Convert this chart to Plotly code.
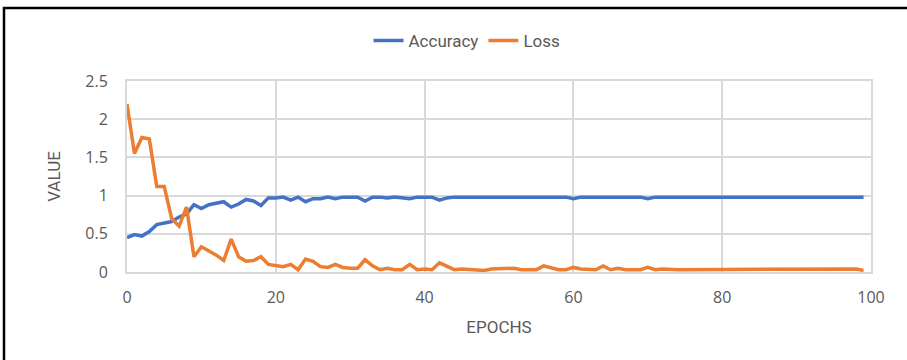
import plotly.graph_objects as go

epochs = list(range(100))
accuracy = [0.45, 0.49, 0.47, 0.53, 0.62, 0.64, 0.66, 0.72, 0.76, 0.88,
            0.83, 0.88, 0.90, 0.92, 0.85, 0.89, 0.95, 0.93, 0.87, 0.97,
            0.97, 0.98, 0.94, 0.98, 0.92, 0.96, 0.96, 0.98, 0.96, 0.98,
            0.98, 0.98, 0.93, 0.98, 0.98, 0.97, 0.98, 0.97, 0.96, 0.98,
            0.98, 0.98, 0.94, 0.97, 0.98, 0.98, 0.98, 0.98, 0.98, 0.98,
            0.98, 0.97, 0.98, 0.98, 0.98, 0.97, 0.98, 0.98, 0.98, 0.98,
            0.96, 0.98, 0.98, 0.98, 0.97, 0.98, 0.98, 0.98, 0.98, 0.98,
            0.96, 0.98, 0.98, 0.98, 0.98, 0.98, 0.98, 0.98, 0.98, 0.98,
            0.98, 0.98, 0.97, 0.97, 0.98, 0.98, 0.98, 0.98, 0.98, 0.98,
            0.98, 0.97, 0.98, 0.98, 0.98, 0.98, 0.98, 0.97, 0.97, 0.98]
loss = [2.20, 1.55, 1.76, 1.74, 1.12, 1.12, 0.70, 0.60, 0.85, 0.20,
        0.33, 0.28, 0.22, 0.15, 0.43, 0.20, 0.14, 0.15, 0.20, 0.10,
        0.08, 0.07, 0.10, 0.03, 0.17, 0.14, 0.07, 0.06, 0.10, 0.06,
        0.05, 0.05, 0.16, 0.08, 0.03, 0.05, 0.03, 0.03, 0.10, 0.03,
        0.04, 0.03, 0.12, 0.07, 0.03, 0.04, 0.03, 0.03, 0.02, 0.04,
        0.04, 0.04, 0.05, 0.03, 0.03, 0.03, 0.08, 0.05, 0.03, 0.03,
        0.06, 0.04, 0.03, 0.03, 0.08, 0.03, 0.05, 0.03, 0.03, 0.03,
        0.06, 0.03, 0.04, 0.03, 0.03, 0.03, 0.03, 0.03, 0.03, 0.03,
        0.04, 0.03, 0.04, 0.04, 0.04, 0.03, 0.03, 0.03, 0.03, 0.03,
        0.03, 0.03, 0.03, 0.03, 0.03, 0.03, 0.03, 0.03, 0.04, 0.02]

grey_text = "#595959"
grid = "#d9d9d9"
narrow = "Liberation Sans Narrow, Arial Narrow, Roboto, sans-serif"

fig = go.Figure()
fig.add_trace(go.Scatter(x=epochs, y=accuracy, mode="lines", name="Accuracy",
                         line=dict(color="#4472C4", width=3.5)))
fig.add_trace(go.Scatter(x=epochs, y=loss, mode="lines", name="Loss",
                         line=dict(color="#ED7D31", width=3.5)))

W, H = 907, 360
ml, mr, mt, mb = 127, 36, 81, 88
pw = W - ml - mr
ph = H - mt - mb

fig.update_layout(
    width=W, height=H,
    margin=dict(l=ml, r=mr, t=mt, b=mb),
    paper_bgcolor="white", plot_bgcolor="white",
    showlegend=True,
    legend=dict(orientation="h", x=(467 - ml) / pw, xanchor="center",
                y=(H - mb - 41) / ph, yanchor="middle",
                font=dict(family=narrow, size=17, color=grey_text),
                itemwidth=30, tracegroupgap=0),
    xaxis=dict(range=[0, 100], dtick=20, showgrid=True, gridcolor=grid, gridwidth=2,
               showline=True, linecolor=grid, linewidth=2, mirror=True, zeroline=False,
               ticks="", ticklabelstandoff=10,
               tickfont=dict(family="Open Sans, sans-serif", size=16, color=grey_text),
               title=dict(text="EPOCHS", font=dict(family=narrow, size=17, color=grey_text), standoff=14)),
    yaxis=dict(range=[0, 2.5], dtick=0.5, showgrid=True, gridcolor=grid, gridwidth=2,
               showline=True, linecolor=grid, linewidth=2, mirror=True, zeroline=False,
               ticks="", ticklabelstandoff=14,
               tickfont=dict(family="Open Sans, sans-serif", size=16, color=grey_text),
               title=dict(text="VALUE", font=dict(family=narrow, size=17, color=grey_text), standoff=20)),
    shapes=[dict(type="rect", xref="paper", yref="paper",
                 x0=(4 - ml) / pw, x1=(915 - ml) / pw,
                 y0=(H - mb - 370) / ph, y1=(H - mb - 8) / ph,
                 line=dict(color="black", width=2.5), fillcolor="rgba(0,0,0,0)", layer="below")],
)

fig.write_html("out.html", config={"displayModeBar": False},
               post_script="document.body.style.margin='0';document.body.style.overflow='hidden';")
